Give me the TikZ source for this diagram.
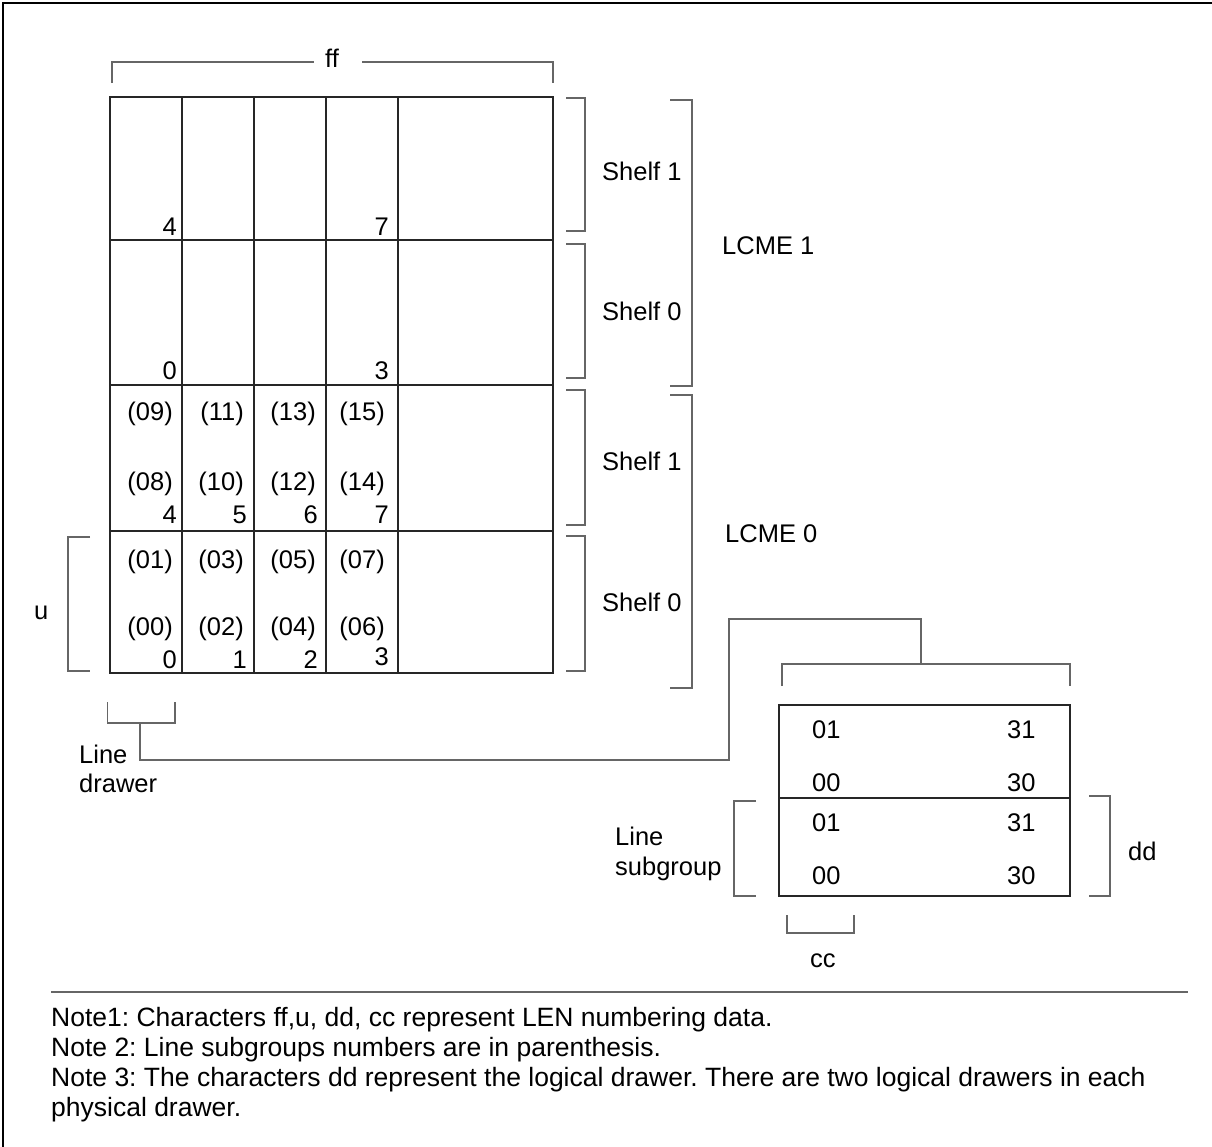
\documentclass[tikz,border=0pt]{standalone}
\usepackage{fontspec}
\setmainfont{Liberation Sans}
\frenchspacing
\begin{document}
\begin{tikzpicture}[x=1pt,y=-1pt,
  gridline/.style={line width=1.1pt, draw=black!85},
  brk/.style={line width=1.3pt, draw=black!60},
  lbl/.style={inner sep=0pt, anchor=base west, font=\fontsize{25.5}{30}\selectfont},
  rlbl/.style={inner sep=0pt, anchor=base east, font=\fontsize{25.5}{30}\selectfont},
  note/.style={inner sep=0pt, anchor=base west, font=\fontsize{26.5}{30}\selectfont}]
\useasboundingbox (0,0) rectangle (1212,1146);
% frame
\draw[line width=2pt] (3,1150) -- (3,3) -- (1215,3);

% ---- rack ----
\node[gridline, draw, inner sep=0pt, outer sep=0pt, minimum width=443pt, minimum height=576pt, anchor=north west] (rack) at (110,97) {};
\foreach \y in {240,385,531} \draw[gridline] (110,\y) -- (553,\y);
\foreach \x in {182,254,326,398} \draw[gridline] (\x,97) -- (\x,673);

% LCME 1 numbers
\node[rlbl] (t4) at (177,235) {4};
\node[rlbl] (t7) at (389,235) {7};
\node[rlbl] (t0) at (177,379) {0};
\node[rlbl] (t3) at (389,379) {3};

% LCME 0 shelf 1
\node[rlbl] (s09) at (173,420) {(09)};
\node[rlbl] (s11) at (244,420) {(11)};
\node[rlbl] (s13) at (316,420) {(13)};
\node[rlbl] (s15) at (385,420) {(15)};
\node[rlbl] (s08) at (173,490) {(08)};
\node[rlbl] (s10) at (244,490) {(10)};
\node[rlbl] (s12) at (316,490) {(12)};
\node[rlbl] (s14) at (385,490) {(14)};
\node[rlbl] (n4) at (177,523) {4};
\node[rlbl] (n5) at (247,523) {5};
\node[rlbl] (n6) at (318,523) {6};
\node[rlbl] (n7) at (389,523) {7};
% LCME 0 shelf 0
\node[rlbl] (s01) at (173,568) {(01)};
\node[rlbl] (s03) at (244,568) {(03)};
\node[rlbl] (s05) at (316,568) {(05)};
\node[rlbl] (s07) at (385,568) {(07)};
\node[rlbl] (s00) at (173,635) {(00)};
\node[rlbl] (s02) at (244,635) {(02)};
\node[rlbl] (s04) at (316,635) {(04)};
\node[rlbl] (s06) at (385,635) {(06)};
\node[rlbl] (n0) at (177,668) {0};
\node[rlbl] (n1) at (247,668) {1};
\node[rlbl] (n2) at (318,668) {2};
\node[rlbl] (n3) at (389,665) {3};

% ff bracket
\node[lbl] (ff) at (325,67) {ff};
\draw[brk] (112,83) -- (112,62) -- (314,62);
\draw[brk] (362,62) -- (553,62) -- (553,83);

% shelf brackets
\foreach \a/\b in {98/231, 244/378, 390/525, 536/671}
  \draw[brk] (566,\a) -- (585,\a) -- (585,\b) -- (566,\b);
\node[lbl] (sh1a) at (602,180) {Shelf 1};
\node[lbl] (sh0a) at (602,320) {Shelf 0};
\node[lbl] (sh1b) at (602,470) {Shelf 1};
\node[lbl] (sh0b) at (602,611) {Shelf 0};

% LCME brackets
\foreach \a/\b in {100/386, 395/688}
  \draw[brk] (670,\a) -- (692,\a) -- (692,\b) -- (670,\b);
\node[lbl] (lcme1) at (722,254) {LCME 1};
\node[lbl] (lcme0) at (725,542) {LCME 0};

% u bracket
\draw[brk] (90,537) -- (68,537) -- (68,671) -- (90,671);
\node[lbl] (u) at (34,619) {u};

% line drawer bracket
\draw[brk] (107.5,702) -- (107.5,723) -- (175,723) -- (175,702);
\coordinate (ldstem) at (140,723);
\node[lbl] (ld1) at (79,763) {Line};
\node[lbl] (ld2) at (79,792) {drawer};

% line drawer box
\node[gridline, draw, inner sep=0pt, outer sep=0pt, minimum width=291pt, minimum height=191pt, anchor=north west] (ldbox) at (779,705) {};
\draw[gridline] (779,798) -- (1070,798);
\draw[brk] (782,686) -- (782,664) -- (1070,664) -- (1070,686);
\coordinate (boxbrk) at (921,664);
\draw[brk] (ldstem) -- (140,760) -- (729,760) -- (729,619) -- (921,619) -- (boxbrk);

\node[lbl] (a01) at (812,738) {01};
\node[lbl] (a31) at (1007,738) {31};
\node[lbl] (a00) at (812,791) {00};
\node[lbl] (a30) at (1007,791) {30};
\node[lbl] (b01) at (812,831) {01};
\node[lbl] (b31) at (1007,831) {31};
\node[lbl] (b00) at (812,884) {00};
\node[lbl] (b30) at (1007,884) {30};

% line subgroup bracket
\draw[brk] (756,801) -- (734,801) -- (734,896) -- (756,896);
\node[lbl] (ls1) at (615,845) {Line};
\node[lbl] (ls2) at (615,875) {subgroup};

% dd bracket
\draw[brk] (1089,796) -- (1110,796) -- (1110,896) -- (1089,896);
\node[lbl] (dd) at (1128,860) {dd};

% cc bracket
\draw[brk] (787,915) -- (787,933) -- (854,933) -- (854,915);
\node[lbl] (cc) at (810,967) {cc};

% separator and notes
\draw[brk] (51,992) -- (1188,992);
\node[note] (note1) at (51,1026) {Note1: Characters ff,u, dd, cc represent LEN numbering data.};
\node[note] (note2) at (51,1056) {Note 2: Line subgroups numbers are in parenthesis.};
\node[note] (note3) at (51,1086) {Note 3: The characters dd represent the logical drawer. There are two logical drawers in each};
\node[note] (note4) at (51,1116) {physical drawer.};
\end{tikzpicture}
\end{document}
